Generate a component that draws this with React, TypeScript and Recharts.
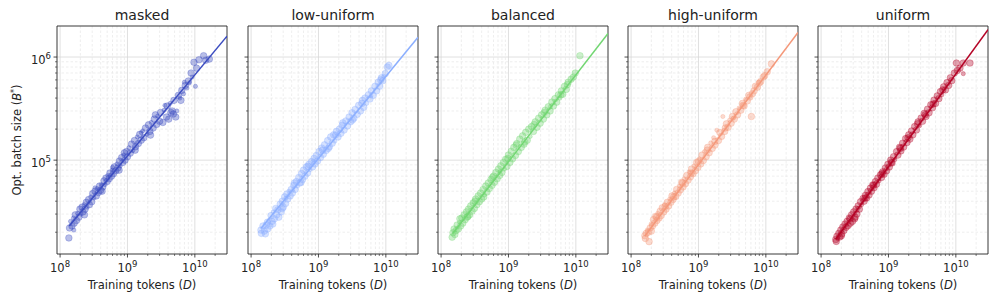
import React from "react";
import { ScatterChart, Scatter, XAxis, YAxis, CartesianGrid, ReferenceArea } from "recharts";

// rows are [training tokens in billions, optimal batch size in thousands, marker size (1 small, 2 large)]
type Row = [number, number, number];

const maskedRows: Row[] = [
  [0.135, 17.6, 2], [0.138, 22, 2], [0.143, 25.5, 1], [0.15, 23, 2], [0.158, 27.5, 1],
  [0.162, 24.5, 2], [0.168, 29.5, 2], [0.175, 26, 2], [0.182, 30.5, 1], [0.19, 28, 2],
  [0.197, 33.5, 2], [0.205, 30, 1], [0.212, 35, 2], [0.218, 31.5, 2], [0.228, 37, 1],
  [0.235, 33.5, 2], [0.245, 39, 2], [0.252, 35, 1], [0.265, 41.5, 2], [0.272, 37, 2],
  [0.285, 44, 1], [0.295, 39.5, 2], [0.305, 47.5, 2], [0.318, 43, 1], [0.33, 50, 2],
  [0.345, 45, 2], [0.355, 53, 1], [0.37, 48.5, 2], [0.385, 56, 2], [0.4, 51, 2],
  [0.41, 58, 1], [0.43, 55, 2], [0.45, 63, 2], [0.465, 58, 1], [0.48, 67, 2],
  [0.5, 62, 2], [0.51, 71, 1], [0.535, 66, 2], [0.55, 75, 2], [0.58, 70, 2],
  [0.595, 80, 1], [0.62, 74, 2], [0.64, 86, 2], [0.67, 79, 2], [0.7, 92, 1],
  [0.72, 84, 2], [0.76, 98, 2], [0.78, 88, 1], [0.82, 106, 2], [0.85, 95, 2],
  [0.88, 112, 1], [0.92, 100, 2], [0.97, 121, 2], [1.0, 108, 2], [1.05, 132, 1],
  [1.1, 117, 2], [1.15, 143, 2], [1.2, 124, 1], [1.27, 155, 2], [1.32, 135, 2],
  [1.4, 168, 1], [1.45, 145, 2], [1.52, 178, 2], [1.6, 156, 2], [1.68, 192, 1],
  [1.75, 165, 2], [1.85, 205, 2], [1.95, 178, 1], [2.05, 220, 2], [2.15, 190, 2],
  [2.25, 232, 1], [2.4, 205, 2], [2.5, 250, 2], [2.7, 222, 2], [2.8, 268, 1],
  [3.0, 238, 2], [3.1, 290, 2], [3.35, 232, 2], [3.5, 305, 1], [3.8, 262, 2],
  [3.9, 335, 2], [4.1, 250, 2], [4.3, 355, 1], [4.6, 300, 2], [4.8, 280, 2],
  [4.9, 380, 2], [5.2, 262, 2], [5.4, 300, 1], [5.7, 425, 2], [6.0, 400, 1],
  [6.4, 475, 2], [6.8, 440, 1], [7.2, 530, 2], [7.6, 500, 1], [8.0, 585, 2],
  [8.3, 560, 1], [8.8, 700, 2], [9.1, 640, 1], [9.7, 890, 2], [10.2, 520, 1],
  [10.6, 780, 2], [11.5, 940, 2], [13.5, 1030, 2], [14.5, 930, 2], [16.4, 955, 2],
  [0.16, 21, 1], [0.23, 29.5, 2], [0.33, 54, 1], [0.42, 50, 2], [0.6, 85, 1],
  [0.75, 80, 2], [0.9, 118, 2], [1.3, 125, 2], [1.6, 185, 1], [2.2, 175, 2],
  [2.6, 275, 2], [3.6, 340, 1], [4.4, 290, 2], [6.2, 380, 2], [7.0, 570, 1],
];

const lowUniformRows: Row[] = [
  [0.14, 21, 2], [0.142, 19.5, 2], [0.15, 23, 2], [0.157, 20.5, 2], [0.163, 19.3, 2],
  [0.168, 23.5, 2], [0.176, 21.5, 2], [0.183, 26, 1], [0.19, 23, 2], [0.198, 29, 2],
  [0.205, 25.5, 2], [0.214, 31.5, 1], [0.222, 27, 2], [0.232, 34, 2], [0.24, 29.5, 2],
  [0.25, 33, 2], [0.258, 28, 2], [0.27, 37.5, 2], [0.28, 31.5, 2], [0.29, 40, 2],
  [0.3, 35, 2], [0.315, 44, 2], [0.325, 38, 2], [0.34, 47, 2], [0.35, 42, 2],
  [0.365, 50, 1], [0.38, 45, 2], [0.395, 52, 2], [0.41, 48, 2], [0.43, 57, 2],
  [0.45, 52, 2], [0.47, 62, 2], [0.49, 56, 1], [0.51, 68, 2], [0.53, 60, 2],
  [0.56, 74, 2], [0.58, 65, 2], [0.6, 80, 2], [0.63, 70, 2], [0.66, 86, 2],
  [0.69, 75, 2], [0.72, 91, 2], [0.75, 81, 1], [0.79, 97, 2], [0.82, 86, 2],
  [0.86, 104, 2], [0.89, 92, 2], [0.93, 111, 2], [0.97, 98, 2], [1.02, 121, 2],
  [1.07, 106, 2], [1.12, 131, 2], [1.18, 114, 2], [1.23, 141, 2], [1.3, 124, 2],
  [1.37, 155, 2], [1.45, 135, 2], [1.52, 168, 2], [1.6, 146, 2], [1.68, 176, 2],
  [1.75, 153, 1], [1.85, 190, 2], [1.95, 168, 2], [2.05, 200, 2], [2.15, 182, 2],
  [2.25, 218, 2], [2.4, 196, 2], [2.55, 240, 2], [2.7, 215, 2], [2.85, 262, 2],
  [3.0, 236, 2], [3.15, 288, 2], [3.35, 255, 2], [3.5, 310, 2], [3.75, 278, 2],
  [3.95, 340, 2], [4.2, 300, 2], [4.4, 355, 2], [4.7, 325, 2], [4.9, 400, 2],
  [5.2, 355, 1], [5.5, 430, 2], [5.8, 392, 2], [6.1, 470, 2], [6.5, 425, 2],
  [6.9, 520, 2], [7.3, 470, 2], [7.7, 570, 2], [8.1, 520, 2], [8.6, 630, 2],
  [9.0, 590, 2], [9.3, 650, 1], [9.8, 690, 2], [10.5, 800, 2], [11.1, 830, 2],
  [0.175, 25, 2], [0.21, 24, 2], [0.29, 34, 2], [0.33, 43, 1], [0.44, 60, 2],
  [0.55, 61, 2], [0.7, 87, 2], [0.85, 98, 1], [1.15, 125, 2], [1.4, 130, 2],
  [1.8, 175, 2], [2.3, 230, 2], [3.2, 245, 2], [4.5, 380, 2], [6.0, 420, 1],
  [8.4, 600, 2],
];

const balancedRows: Row[] = [
  [0.146, 17.9, 2], [0.15, 19.8, 2], [0.156, 21.5, 2], [0.16, 19, 2], [0.167, 20.7, 2],
  [0.173, 23.5, 2], [0.18, 21.5, 2], [0.188, 25, 1], [0.195, 23, 2], [0.203, 27.5, 2],
  [0.21, 24.5, 2], [0.22, 29.5, 2], [0.228, 26.5, 2], [0.238, 31.5, 2], [0.245, 28, 2],
  [0.255, 33.5, 2], [0.265, 29.5, 2], [0.275, 36, 2], [0.288, 32, 2], [0.3, 38.5, 2],
  [0.312, 34, 2], [0.325, 42, 2], [0.34, 37, 2], [0.355, 45, 2], [0.37, 39.5, 2],
  [0.385, 48, 2], [0.4, 42, 2], [0.42, 52, 2], [0.44, 46, 1], [0.46, 56, 2],
  [0.48, 49, 2], [0.5, 60, 2], [0.52, 53, 2], [0.55, 65, 2], [0.57, 57, 2],
  [0.6, 70, 2], [0.62, 61, 2], [0.65, 76, 2], [0.68, 66, 2], [0.71, 82, 2],
  [0.74, 71, 2], [0.77, 88, 2], [0.8, 76, 2], [0.84, 95, 2], [0.87, 82, 1],
  [0.91, 102, 2], [0.95, 87, 2], [1.0, 112, 2], [1.05, 95, 2], [1.1, 122, 2],
  [1.15, 103, 2], [1.2, 133, 2], [1.27, 111, 2], [1.33, 145, 2], [1.4, 121, 2],
  [1.47, 160, 2], [1.55, 133, 2], [1.62, 172, 2], [1.7, 143, 2], [1.8, 186, 2],
  [1.9, 156, 2], [2.0, 200, 2], [2.1, 170, 1], [2.2, 212, 2], [2.35, 190, 2],
  [2.5, 235, 2], [2.65, 208, 2], [2.8, 255, 2], [2.95, 228, 2], [3.1, 275, 2],
  [3.3, 250, 2], [3.5, 305, 2], [3.7, 275, 2], [3.9, 330, 2], [4.15, 300, 2],
  [4.4, 365, 2], [4.65, 335, 2], [4.9, 395, 2], [5.2, 365, 2], [5.5, 430, 2],
  [5.8, 400, 1], [6.1, 470, 2], [6.4, 435, 2], [6.8, 520, 2], [7.2, 485, 2],
  [7.7, 570, 2], [8.5, 610, 2], [9.2, 640, 2], [11.5, 1030, 2],
  [0.19, 27, 2], [0.25, 28.5, 2], [0.32, 40, 2], [0.43, 44, 2], [0.58, 68, 2],
  [0.75, 78, 1], [0.98, 104, 2], [1.3, 140, 2], [1.75, 150, 2], [2.4, 222, 2],
  [3.4, 290, 2], [4.2, 330, 1], [6.0, 430, 2], [7.5, 540, 2], [9.8, 700, 2],
];

const highUniformRows: Row[] = [
  [0.16, 18.5, 2], [0.163, 17.4, 2], [0.168, 19.5, 2], [0.174, 21, 1], [0.185, 16.2, 2],
  [0.18, 20, 2], [0.192, 22, 2], [0.198, 24, 1], [0.208, 23, 2], [0.215, 26.5, 2],
  [0.225, 24.5, 2], [0.232, 28.5, 2], [0.242, 26, 2], [0.25, 30.5, 1], [0.26, 27.5, 2],
  [0.27, 32, 2], [0.28, 29, 2], [0.29, 34.5, 2], [0.305, 31.5, 2], [0.315, 37, 1],
  [0.33, 33.5, 2], [0.345, 39, 2], [0.36, 36, 2], [0.375, 42, 1], [0.39, 39, 2],
  [0.405, 45, 2], [0.42, 41.5, 2], [0.44, 48, 1], [0.46, 44.5, 2], [0.475, 52, 2],
  [0.5, 48, 2], [0.52, 56, 1], [0.54, 51.5, 2], [0.565, 61, 2], [0.59, 55, 2],
  [0.615, 66, 1], [0.64, 59, 2], [0.67, 71, 2], [0.7, 64, 2], [0.73, 77, 1],
  [0.76, 69, 2], [0.79, 82, 2], [0.83, 74, 2], [0.86, 88, 1], [0.9, 79, 2],
  [0.94, 95, 2], [0.98, 85, 2], [1.03, 103, 1], [1.08, 92, 2], [1.13, 112, 2],
  [1.18, 99, 2], [1.23, 121, 1], [1.3, 108, 2], [1.37, 133, 2], [1.44, 118, 2],
  [1.52, 147, 1], [1.6, 130, 2], [1.68, 165, 1], [1.76, 140, 2], [1.88, 195, 1],
  [1.98, 155, 2], [2.08, 185, 2], [2.2, 170, 2], [2.3, 265, 1], [2.45, 190, 2],
  [2.6, 225, 2], [2.75, 208, 2], [2.9, 245, 1], [3.05, 228, 2], [3.2, 265, 2],
  [3.4, 250, 2], [3.6, 295, 2], [3.8, 275, 2], [4.0, 320, 1], [4.25, 305, 2],
  [4.5, 355, 2], [4.75, 335, 2], [5.0, 390, 1], [5.3, 375, 2], [5.6, 425, 2],
  [6.1, 265, 2], [6.3, 440, 2], [6.7, 470, 2], [7.0, 520, 2], [7.5, 510, 2],
  [7.8, 570, 1], [8.4, 580, 2], [9.2, 640, 2], [10.5, 720, 2], [12.1, 860, 2],
  [0.2, 20.5, 2], [0.24, 28, 2], [0.32, 35.5, 2], [0.43, 44, 2], [0.58, 60, 2],
  [0.78, 75, 2], [1.0, 97, 2], [1.35, 125, 2], [1.75, 152, 2], [2.5, 205, 2],
  [3.3, 255, 1], [4.6, 340, 2], [5.8, 410, 2], [8.0, 560, 2], [9.6, 660, 2],
];

const uniformRows: Row[] = [
  [0.165, 17, 2], [0.168, 16.3, 2], [0.172, 18.3, 2], [0.178, 17.3, 1], [0.183, 19.5, 2],
  [0.19, 18, 2], [0.196, 21, 2], [0.203, 19.3, 2], [0.21, 22.5, 2], [0.218, 20.8, 2],
  [0.226, 24, 2], [0.235, 22.3, 2], [0.243, 25.5, 2], [0.252, 23.2, 2], [0.262, 27.5, 2],
  [0.272, 24.5, 2], [0.283, 29.5, 2], [0.293, 25.5, 2], [0.305, 31.5, 2], [0.315, 27, 2],
  [0.33, 33.5, 2], [0.34, 30, 2], [0.355, 36, 2], [0.37, 33.5, 2], [0.385, 39.5, 2],
  [0.4, 37, 1], [0.42, 42.5, 2], [0.435, 40, 2], [0.455, 45.5, 2], [0.475, 43, 2],
  [0.495, 49.5, 2], [0.515, 46, 2], [0.54, 53.5, 2], [0.56, 50, 2], [0.585, 57.5, 2],
  [0.61, 54, 2], [0.64, 62, 2], [0.665, 58.5, 2], [0.695, 67, 2], [0.725, 63, 1],
  [0.76, 72, 2], [0.79, 68, 2], [0.82, 77, 2], [0.86, 73, 2], [0.9, 84, 2],
  [0.94, 79, 2], [0.98, 91, 2], [1.03, 86, 2], [1.08, 100, 2], [1.13, 94, 2],
  [1.19, 108, 2], [1.24, 101, 1], [1.32, 121, 2], [1.38, 112, 2], [1.46, 133, 2],
  [1.53, 123, 2], [1.62, 146, 2], [1.68, 134, 2], [1.8, 162, 2], [1.88, 148, 2],
  [2.0, 176, 2], [2.08, 160, 2], [2.2, 192, 2], [2.3, 176, 2], [2.45, 212, 2],
  [2.6, 196, 2], [2.75, 235, 2], [2.9, 216, 1], [3.05, 256, 2], [3.2, 238, 2],
  [3.4, 284, 2], [3.6, 265, 2], [3.8, 312, 2], [4.0, 288, 2], [4.25, 345, 2],
  [4.5, 322, 2], [4.75, 382, 2], [5.0, 355, 2], [5.3, 420, 2], [5.6, 395, 2],
  [5.9, 462, 2], [6.2, 430, 1], [6.6, 515, 2], [7.0, 480, 2], [7.4, 565, 2],
  [7.8, 530, 2], [8.3, 630, 2], [8.7, 590, 2], [10.2, 875, 2], [10.5, 740, 2],
  [12.9, 875, 2], [12.9, 690, 1], [16.2, 875, 2],
  [0.2, 18.5, 2], [0.27, 27, 2], [0.32, 28, 2], [0.45, 43, 2], [0.6, 57, 2],
  [0.8, 74, 2], [1.1, 95, 2], [1.5, 130, 2], [1.95, 165, 2], [2.7, 225, 2],
  [3.5, 275, 2], [4.6, 350, 2], [6.4, 480, 2], [9.5, 700, 2], [11.5, 780, 2],
];

// fitted power laws: [tokens in billions, batch size in thousands] at both ends
const maskedFit = [[0.137, 23.0], [30, 1596]];
const lowUniformFit = [[0.141, 21.9], [30, 1553]];
const balancedFit = [[0.148, 19.3], [30, 1694]];
const highUniformFit = [[0.16, 18.4], [30, 1734]];
const uniformFit = [[0.165, 17.1], [30, 1845]];

const xMajor = [1e8, 1e9, 1e10];
const xMinor = [2e8, 3e8, 4e8, 5e8, 6e8, 7e8, 8e8, 9e8, 2e9, 3e9, 4e9, 5e9, 6e9, 7e9, 8e9, 9e9, 2e10];
const yMajor = [1e5, 1e6];
const yMinor = [2e4, 3e4, 4e4, 5e4, 6e4, 7e4, 8e4, 9e4, 2e5, 3e5, 4e5, 5e5, 6e5, 7e5, 8e5, 9e5];

const X_DOMAIN: [number, number] = [9e7, 3e10];
const Y_DOMAIN: [number, number] = [1.23e4, 2e6];

const FONT = "DejaVu Sans, sans-serif";
const INK = "#222";

const panels = [
  { title: "masked", color: "#3b4cc0", rows: maskedRows, fit: maskedFit, left: 57 },
  { title: "low-uniform", color: "#8caffe", rows: lowUniformRows, fit: lowUniformFit, left: 248 },
  { title: "balanced", color: "#72d672", rows: balancedRows, fit: balancedFit, left: 438 },
  { title: "high-uniform", color: "#f4987a", rows: highUniformRows, fit: highUniformFit, left: 628 },
  { title: "uniform", color: "#b40426", rows: uniformRows, fit: uniformFit, left: 818 },
];

const PLOT_W = 170;
const AXIS_W = 45;
const TOP = 26;
const X_AXIS_H = 47;

const isMajor = (v: number) => {
  const e = Math.log10(v);
  return Math.abs(e - Math.round(e)) < 1e-6;
};

function XTick(props: any) {
  const { x, y, payload } = props;
  const major = isMajor(payload.value);
  const len = major ? 3.5 : 2;
  return (
    <g>
      <line x1={x} x2={x} y1={y} y2={y + len} stroke={INK} strokeWidth={major ? 0.8 : 0.6} />
      {major && (
        <text x={x} y={y + 18} textAnchor="middle" fontSize={11.5} fill={INK} fontFamily={FONT}>
          10
          <tspan dy={-5} fontSize={8.5}>
            {Math.round(Math.log10(payload.value))}
          </tspan>
        </text>
      )}
    </g>
  );
}

function YTick(props: any) {
  const { x, y, payload, showLabel } = props;
  const major = isMajor(payload.value);
  const len = major ? 3.5 : 2;
  return (
    <g>
      <line x1={x} x2={x - len} y1={y} y2={y} stroke={INK} strokeWidth={major ? 0.8 : 0.6} />
      {major && showLabel && (
        <text x={x - 6} y={y + 7} textAnchor="end" fontSize={11.5} fill={INK} fontFamily={FONT}>
          10
          <tspan dy={-5} fontSize={8.5}>
            {Math.round(Math.log10(payload.value))}
          </tspan>
        </text>
      )}
    </g>
  );
}

function Panel({ p, index }: { p: (typeof panels)[number]; index: number }) {
  const points = p.rows.map(([d, b, s]) => ({ x: d * 1e9, y: b * 1e3, s }));
  const fitPoints = p.fit.map(([d, b]) => ({ x: d * 1e9, y: b * 1e3 }));
  const xTicks = [...xMajor, ...xMinor].sort((a, b) => a - b);
  const yTicks = [...yMajor, ...yMinor].sort((a, b) => a - b);

  return (
    <div style={{ position: "absolute", left: p.left - AXIS_W, top: 0 }}>
      <ScatterChart
        width={AXIS_W + PLOT_W + 6}
        height={301}
        margin={{ top: TOP, right: 6, bottom: 0, left: 0 }}
      >
        <CartesianGrid
          horizontalValues={yMinor}
          verticalValues={xMinor}
          stroke="#e6e6e6"
          strokeWidth={0.7}
          strokeDasharray="2.5 2"
        />
        <CartesianGrid horizontalValues={yMajor} verticalValues={xMajor} stroke="#d8d8d8" strokeWidth={0.8} />
        <XAxis
          dataKey="x"
          type="number"
          scale="log"
          domain={X_DOMAIN}
          allowDataOverflow
          ticks={xTicks}
          interval={0}
          height={X_AXIS_H}
          tickSize={0}
          tickMargin={0}
          tickLine={false}
          axisLine={false}
          tick={(props: any) => <XTick {...props} />}
        />
        <YAxis
          dataKey="y"
          type="number"
          scale="log"
          domain={Y_DOMAIN}
          allowDataOverflow
          ticks={yTicks}
          interval={0}
          width={AXIS_W}
          tickSize={0}
          tickMargin={0}
          tickLine={false}
          axisLine={false}
          tick={(props: any) => <YTick {...props} showLabel={index === 0} />}
        />
        <Scatter
          data={points}
          isAnimationActive={false}
          shape={(sp: any) => (
            <circle
              cx={sp.cx}
              cy={sp.cy}
              r={sp.payload.s === 2 ? 3.3 : 2.1}
              fill={p.color}
              fillOpacity={0.36}
              stroke={p.color}
              strokeOpacity={0.42}
              strokeWidth={0.7}
            />
          )}
        />
        <Scatter
          data={fitPoints}
          isAnimationActive={false}
          line={{ stroke: p.color, strokeWidth: 1.5 }}
          shape={() => <g />}
        />
        <ReferenceArea
          x1={X_DOMAIN[0]}
          x2={X_DOMAIN[1]}
          y1={Y_DOMAIN[0]}
          y2={Y_DOMAIN[1]}
          fill="none"
          stroke={INK}
          strokeWidth={0.9}
          ifOverflow="visible"
        />
      </ScatterChart>
    </div>
  );
}

export default function App() {
  return (
    <div
      style={{
        position: "absolute",
        left: 0,
        top: 0,
        width: 997,
        height: 301,
        background: "#fff",
        fontFamily: FONT,
        overflow: "hidden",
      }}
    >
      {panels.map((p, i) => (
        <Panel key={p.title} p={p} index={i} />
      ))}
      <svg width={997} height={301} style={{ position: "absolute", left: 0, top: 0, pointerEvents: "none" }}>
        {panels.map((p) => (
          <g key={p.title}>
            <text x={p.left + PLOT_W / 2} y={20} textAnchor="middle" fontSize={14} fill={INK} fontFamily={FONT}>
              {p.title}
            </text>
            <text x={p.left + PLOT_W / 2} y={289} textAnchor="middle" fontSize={11.5} fill={INK} fontFamily={FONT}>
              Training tokens (<tspan fontStyle="italic">D</tspan>)
            </text>
          </g>
        ))}
        <text
          transform="translate(21,140) rotate(-90)"
          textAnchor="middle"
          fontSize={11.5}
          fill={INK}
          fontFamily={FONT}
        >
          Opt. batch size (<tspan fontStyle="italic">B</tspan>
          <tspan dy={-4} fontSize={8}>
            *
          </tspan>
          <tspan dy={4}>)</tspan>
        </text>
      </svg>
    </div>
  );
}
